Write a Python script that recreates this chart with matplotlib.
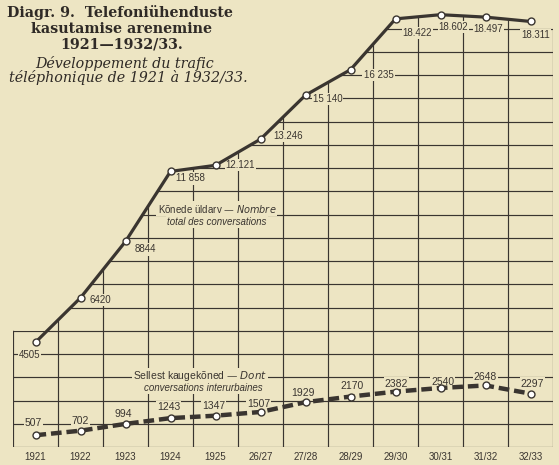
import matplotlib
matplotlib.use("Agg")
import matplotlib.pyplot as plt
from matplotlib.patches import Polygon
import numpy as np

# --- data ---
years = ["1921", "1922", "1923", "1924", "1925", "26/27",
         "27/28", "28/29", "29/30", "30/31", "31/32", "32/33"]
total_calls = [4505, 6420, 8844, 11858, 12121, 13246,
               15140, 16235, 18422, 18602, 18497, 18311]
total_text = ["4505", "6420", "8844", "11 858", "12.121", "13.246",
              "15 140", "16 235", "18.422", "18.602", "18.497", "18.311"]
interurban_calls = [507, 702, 994, 1243, 1347, 1507,
                    1929, 2170, 2382, 2540, 2648, 2297]

# label offsets (pixels) from each point
total_off = [(-6, -13), (20, -2), (20, -8), (20, -7), (25, 0), (28, 3),
             (22, -4), (28, -5), (22, -14), (13, -12), (3, -12), (5, -14)]
inter_off = [(-2, 12), (0, 10), (-2, 10), (-2, 11), (-2, 10), (-2, 8),
             (-3, 9), (2, 11), (1, 8), (2, 6), (0, 8), (2, 10)]

paper = "#ede5c3"
ink = "#3a3530"

fig = plt.figure(figsize=(5.59, 4.65), dpi=100, facecolor=paper)
ax = fig.add_axes([13 / 559, 18 / 465, 540 / 559, 447 / 465])
ax.set_facecolor(paper)
ax.set_xlim(-0.5, 11.5)
ax.set_ylim(0, 447 / 0.02324)
for s in ax.spines.values():
    s.set_visible(False)
ax.set_yticks([])
ax.set_xticks(range(len(years)))
ax.set_xticklabels(years, family="Liberation Sans", fontsize=7, color=ink)
ax.tick_params(axis="x", length=0, pad=3.5)

x = np.arange(len(years))

# grid only below the total curve
x5000 = (5000 - total_calls[0]) / (total_calls[1] - total_calls[0])
verts = [(-0.5, 0), (-0.5, 5000), (x5000, 5000)]
verts += [(i, v) for i, v in zip(x[1:], total_calls[1:])]
verts += [(11.5, 18000), (11.5, 0)]
clip = Polygon(verts, closed=True, transform=ax.transData, fill=False, lw=0)
ax.add_patch(clip)

hl = ax.hlines(np.arange(0, 19000, 1000), -0.5, 11.5, color=ink, lw=0.85, zorder=1)
vl = ax.vlines(np.arange(-0.5, 12, 1), 0, 19000, color=ink, lw=0.85, zorder=1)
hl.set_clip_path(clip)
vl.set_clip_path(clip)

ax.plot(x, total_calls, color=ink, lw=2.3, zorder=3, solid_capstyle="round",
        marker="o", markersize=5, markerfacecolor="white",
        markeredgecolor=ink, markeredgewidth=1.0)
ax.plot(x, interurban_calls, color=ink, lw=3.2, zorder=3,
        linestyle=(0, (2.4, 1.1)),
        marker="o", markersize=5, markerfacecolor="white",
        markeredgecolor=ink, markeredgewidth=1.0)

box = dict(boxstyle="square,pad=0.12", fc=paper, ec="none")
for i in range(len(years)):
    ax.annotate(total_text[i], (x[i], total_calls[i]), xytext=total_off[i],
                textcoords="offset pixels", ha="center", va="center",
                family="Liberation Sans", fontsize=7, color=ink, bbox=box, zorder=2)
    ax.annotate(str(interurban_calls[i]), (x[i], interurban_calls[i]),
                xytext=inter_off[i], textcoords="offset pixels",
                ha="center", va="center", family="Liberation Sans",
                fontsize=7.5, color=ink, bbox=box, zorder=2)

# series captions
ax.text(4.03, 10260, "Kõnede üldarv — $\\it{Nombre}$", ha="center", va="center",
        family="Liberation Sans", fontsize=7, color=ink, bbox=box, zorder=2)
ax.text(4.03, 9690, "total des conversations", ha="center", va="center", style="italic",
        family="Liberation Sans", fontsize=7, color=ink, bbox=box, zorder=2)
ax.text(3.66, 3060, "Sellest kaugekõned — $\\it{Dont}$", ha="center", va="center",
        family="Liberation Sans", fontsize=7.5, color=ink, bbox=box, zorder=2)
ax.text(3.72, 2540, "conversations interurbaines", ha="center", va="center", style="italic",
        family="Liberation Sans", fontsize=7, color=ink, bbox=box, zorder=2)

# title block
def ftext(px, py, s, **kw):
    fig.text(px / 559, 1 - py / 465, s, ha="center", va="baseline", color="#2f2a26", **kw)

ftext(120, 17, "Diagr. 9.  Telefoniühenduste", family="DejaVu Serif", weight="bold", fontsize=10.3)
ftext(122, 33, "kasutamise arenemine", family="DejaVu Serif", weight="bold", fontsize=10.3)
ftext(122, 48, "1921—1932/33.", family="DejaVu Serif", weight="bold", fontsize=10.3)
ftext(125, 68, "Développement du trafic", family="DejaVu Serif", style="italic", fontsize=10.3)
ftext(128, 82, "téléphonique de 1921 à 1932/33.", family="DejaVu Serif", style="italic", fontsize=10.3)

fig.savefig("out.png", dpi=100, facecolor=paper)
